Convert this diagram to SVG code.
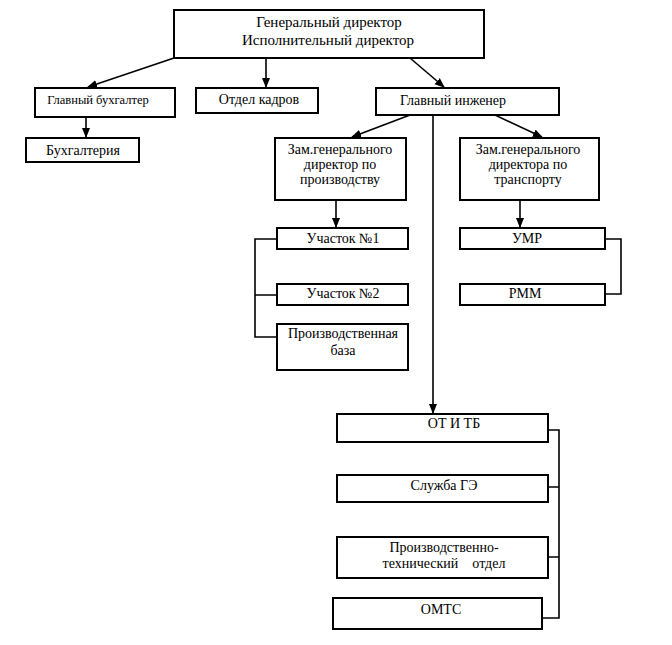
<svg xmlns="http://www.w3.org/2000/svg" width="672" height="645" viewBox="0 0 672 645">
<defs>
<marker id="ah" markerWidth="10" markerHeight="10" refX="9" refY="5" orient="auto" markerUnits="userSpaceOnUse">
<path d="M0,1 L10,5 L0,9 Z" fill="#000"/>
</marker>
<style>
.b{fill:#fff;stroke:#000;stroke-width:2}
text{font-family:"Liberation Serif","DejaVu Serif",serif;font-size:14px;fill:#000;text-anchor:middle}
.c{fill:none;stroke:#000;stroke-width:1.6}
</style>
</defs>
<rect width="672" height="645" fill="#fff"/>
<g id="connectors">
<line class="c" x1="174" y1="58" x2="88" y2="87" marker-end="url(#ah)"/>
<line class="c" x1="266" y1="58" x2="266" y2="87" marker-end="url(#ah)"/>
<line class="c" x1="410" y1="58" x2="444" y2="87" marker-end="url(#ah)"/>
<line class="c" x1="86" y1="117" x2="86" y2="137" marker-end="url(#ah)"/>
<line class="c" x1="410" y1="115" x2="352" y2="137" marker-end="url(#ah)"/>
<line class="c" x1="495" y1="115" x2="542" y2="137" marker-end="url(#ah)"/>
<line class="c" x1="433" y1="115" x2="433" y2="413" marker-end="url(#ah)"/>
<line class="c" x1="336" y1="200" x2="336" y2="227" marker-end="url(#ah)"/>
<line class="c" x1="520" y1="200" x2="520" y2="227" marker-end="url(#ah)"/>
<path class="c" d="M277,239 H255 V337 H277 M255,295 H277"/>
<path class="c" d="M605,239 H621 V294 H605"/>
<path class="c" d="M548,430 H559 V618 H542 M548,487 H559 M548,557 H559"/>
</g>
<g id="n-top"><rect class="b" x="174" y="10" width="310" height="48"/><text x="329" y="27" style="font-size:15px">Генеральный директор</text><text x="328" y="45" style="font-size:15px">Исполнительный директор</text></g>
<g id="n-glbuh"><rect class="b" x="35" y="88" width="140" height="29"/><text x="98" y="104" style="font-size:12.5px">Главный бухгалтер</text></g>
<g id="n-kadry"><rect class="b" x="196" y="88" width="122" height="25"/><text x="259" y="104">Отдел кадров</text></g>
<g id="n-glinzh"><rect class="b" x="376" y="88" width="183" height="27"/><text x="453" y="105">Главный инженер</text></g>
<g id="n-buh"><rect class="b" x="26" y="138" width="113" height="24"/><text x="83" y="155">Бухгалтерия</text></g>
<g id="n-zamprod"><rect class="b" x="275" y="138" width="131" height="62"/><text x="340" y="154">Зам.генерального</text><text x="340" y="169">директор по</text><text x="340" y="184">производству</text></g>
<g id="n-zamtrans"><rect class="b" x="460" y="138" width="139" height="62"/><text x="528" y="154">Зам.генерального</text><text x="528" y="169">директора по</text><text x="528" y="184">транспорту</text></g>
<g id="n-uch1"><rect class="b" x="277" y="228" width="131" height="21"/><text x="343" y="243">Участок №1</text></g>
<g id="n-uch2"><rect class="b" x="277" y="284" width="131" height="21"/><text x="343" y="298">Участок №2</text></g>
<g id="n-baza"><rect class="b" x="277" y="324" width="131" height="46"/><text x="343" y="338">Производственная</text><text x="343" y="355">база</text></g>
<g id="n-umr"><rect class="b" x="460" y="228" width="145" height="21"/><text x="527" y="243">УМР</text></g>
<g id="n-rmm"><rect class="b" x="460" y="284" width="145" height="21"/><text x="525" y="298">РММ</text></g>
<g id="n-ottb"><rect class="b" x="337" y="414" width="211" height="28"/><text x="454" y="428">ОТ И ТБ</text></g>
<g id="n-ge"><rect class="b" x="337" y="475" width="211" height="27"/><text x="444" y="490">Служба ГЭ</text></g>
<g id="n-pto"><rect class="b" x="337" y="537" width="211" height="41"/><text x="444" y="552">Производственно-</text><text x="444" y="568" xml:space="preserve">технический    отдел</text></g>
<g id="n-omts"><rect class="b" x="333" y="598" width="209" height="31"/><text x="441" y="614">ОМТС</text></g>
</svg>
